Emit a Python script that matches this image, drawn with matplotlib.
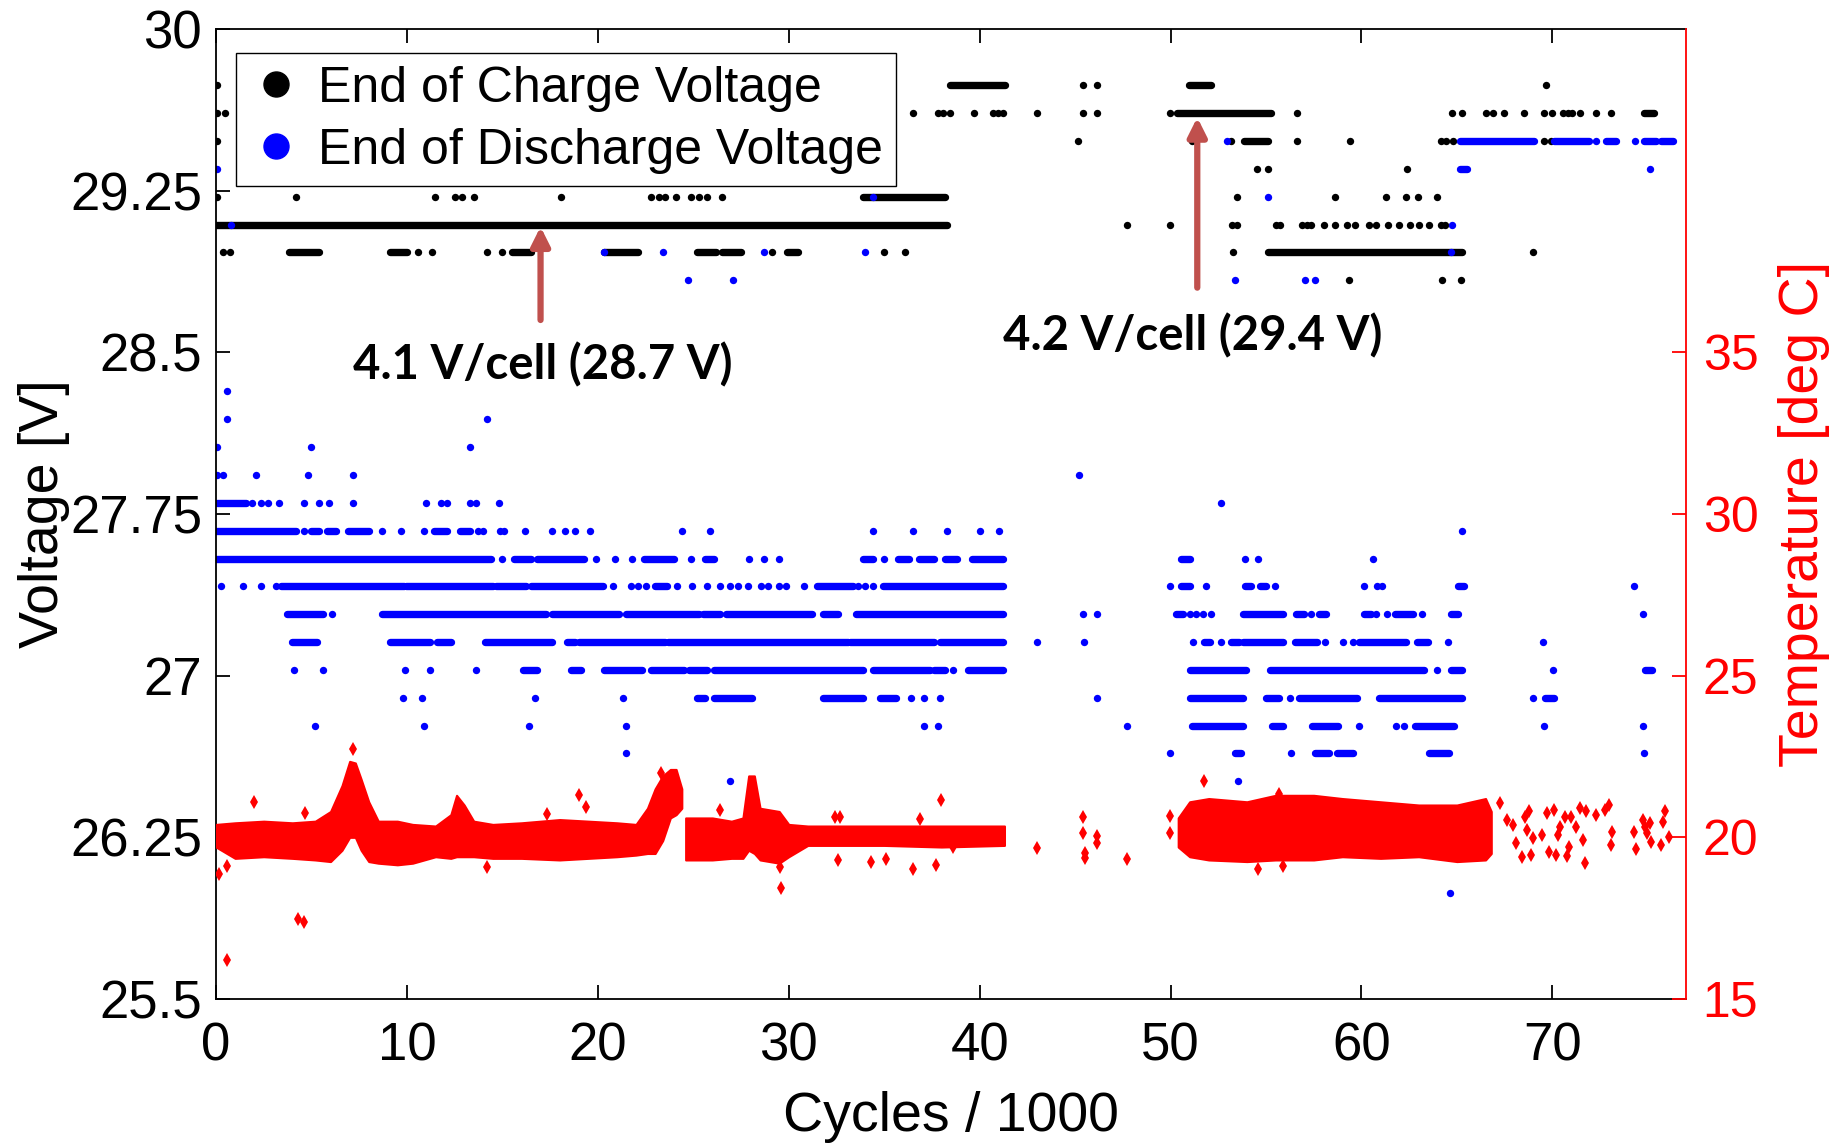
import matplotlib
matplotlib.use("Agg")
import matplotlib.pyplot as plt
from matplotlib.lines import Line2D

plt.rcParams['font.family'] = ['Liberation Sans', 'DejaVu Sans']

# ---- end of charge voltage (black); levels in V, cycles in thousands ----
charge_runs = [
    (29.09, 0.0, 38.3), (29.74, 38.45, 41.33), (29.74, 50.99, 52.11),
    (29.61, 50.36, 55.25), (29.61, 74.81, 75.31), (29.48, 53.87, 55.12),
    (29.22, 33.9, 38.2), (28.965, 55.12, 65.28), (28.965, 3.8, 5.4),
    (28.965, 9.1, 10.0), (28.965, 15.5, 16.5), (28.965, 20.3, 22.1),
    (28.965, 25.2, 26.2), (28.965, 26.5, 27.5), (28.965, 29.9, 30.5),
]
charge_dots = [
    (29.74, [0.03, 45.44, 46.15, 69.67]),
    (29.61, [0.03, 0.48, 36.5, 37.8, 38.1, 38.45, 39.7, 40.7, 40.95, 41.2, 43.0, 45.44,
             46.15, 49.98, 56.6, 64.73, 65.28, 66.54, 66.91, 67.46, 68.52, 69.55, 70.0,
             70.55, 70.8, 71.05, 71.43, 72.3, 73.06]),
    (29.48, [0.03, 45.17, 51.1, 53.17, 56.63, 59.41, 64.15, 64.45, 64.78, 69.55, 69.92]),
    (29.35, [54.55, 55.12, 62.37]),
    (29.22, [0.03, 4.17, 11.47, 12.5, 12.9, 13.5, 18.07, 22.8, 23.2, 23.5, 24.1, 24.9,
             25.3, 25.7, 26.5, 53.5, 58.64, 61.27, 62.32, 62.97, 63.98]),
    (29.09, [47.73, 49.96, 53.24, 53.5, 55.5, 55.75, 56.88, 57.13, 57.38, 58.06, 58.59,
             59.26, 59.64, 60.39, 60.77, 61.39, 61.97, 62.52, 63.02, 63.53, 64.15, 64.4]),
    (28.965, [0.35, 0.75, 10.6, 11.3, 14.2, 15.0, 29.1, 35.0, 36.1, 53.29, 68.99]),
    (28.836, [59.36, 64.23, 65.23]),
]

# ---- end of discharge voltage (blue) ----
discharge_runs = [
    (29.48, 65.16, 69.04), (29.48, 70.1, 71.93), (29.48, 72.8, 73.31),
    (29.48, 74.81, 75.44), (29.48, 75.69, 76.32), (29.35, 65.16, 65.53),
    (27.803, 0.03, 1.55),
    (27.673, 0.0, 4.2), (27.673, 5.0, 5.4), (27.673, 5.8, 6.3), (27.673, 6.9, 8.0),
    (27.673, 11.4, 12.1), (27.673, 12.8, 13.3),
    (27.543, 0.0, 14.4), (27.543, 15.6, 16.5), (27.543, 16.8, 19.3), (27.543, 22.4, 24.0),
    (27.543, 25.6, 26.1), (27.543, 33.9, 34.4), (27.543, 35.7, 36.3), (27.543, 36.8, 37.6),
    (27.543, 38.2, 38.8), (27.543, 39.6, 41.2), (27.543, 50.53, 51.0),
    (27.415, 3.42, 9.84), (27.415, 9.97, 14.51), (27.415, 14.65, 16.25),
    (27.415, 16.52, 20.26), (27.415, 23.0, 23.6), (27.415, 31.48, 33.35),
    (27.415, 34.96, 41.2), (27.415, 50.53, 51.0), (27.415, 53.88, 54.21),
    (27.415, 54.7, 55.02), (27.415, 65.04, 65.39),
    (27.285, 3.7, 5.6), (27.285, 8.7, 17.3), (27.285, 17.6, 21.1), (27.285, 21.5, 25.3),
    (27.285, 25.5, 26.4), (27.285, 26.7, 31.2), (27.285, 31.8, 32.6), (27.285, 33.5, 41.2),
    (27.285, 50.3, 50.65), (27.285, 53.81, 55.91), (27.285, 56.55, 56.97),
    (27.285, 57.79, 58.14), (27.285, 60.12, 60.48), (27.285, 61.76, 62.7),
    (27.285, 64.69, 65.04),
    (27.156, 4.0, 5.3), (27.156, 9.1, 11.2), (27.156, 11.6, 12.3), (27.156, 14.1, 17.6),
    (27.156, 18.4, 18.8), (27.156, 19.0, 23.5), (27.156, 23.7, 33.1), (27.156, 33.2, 37.6),
    (27.156, 37.9, 41.2), (27.156, 51.75, 52.05), (27.156, 53.15, 53.57),
    (27.156, 53.81, 55.91), (27.156, 56.5, 57.67), (27.156, 59.89, 62.35),
    (27.156, 62.93, 63.47),
    (27.026, 16.1, 16.8), (27.026, 18.6, 19.1), (27.026, 20.3, 22.3), (27.026, 22.8, 24.5),
    (27.026, 24.8, 25.7), (27.026, 26.1, 33.9), (27.026, 34.4, 37.4), (27.026, 37.6, 38.2),
    (27.026, 39.4, 41.2), (27.026, 51.0, 53.93), (27.026, 55.21, 63.28),
    (27.026, 64.69, 65.27), (27.026, 74.86, 75.21),
    (26.898, 25.2, 25.6), (26.898, 26.1, 28.1), (26.898, 31.8, 33.9), (26.898, 34.8, 35.6),
    (26.898, 51.0, 53.81), (26.898, 54.98, 55.68), (26.898, 56.73, 59.77),
    (26.898, 60.94, 65.27), (26.898, 69.6, 70.07),
    (26.768, 51.12, 53.81), (26.768, 55.33, 55.91), (26.768, 57.43, 58.77),
    (26.768, 62.81, 64.87),
    (26.64, 53.39, 53.69), (26.64, 57.55, 58.32), (26.64, 58.72, 59.54),
    (26.64, 63.56, 64.57),
]
discharge_dots = [
    (29.48, [52.94, 72.3, 74.31]),
    (29.35, [0.03, 75.14]),
    (29.22, [34.4, 55.1]),
    (29.09, [0.8, 64.73]),
    (28.965, [20.3, 23.4, 28.7, 34.0, 64.7]),
    (28.836, [24.7, 27.1, 53.39, 57.06, 57.56]),
    (28.319, [0.59]),
    (28.189, [0.59, 14.2]),
    (28.061, [0.03, 5.0, 13.3]),
    (27.931, [0.03, 0.35, 2.1, 4.8, 7.2, 45.18]),
    (27.803, [1.9, 2.35, 2.7, 3.3, 4.6, 5.4, 5.9, 7.2, 11.0, 11.8, 12.1, 13.3, 13.6,
              14.8, 52.64]),
    (27.673, [4.6, 8.7, 9.7, 10.9, 13.7, 14.0, 14.9, 15.1, 16.2, 17.6, 18.3, 18.8, 19.6,
              24.4, 25.9, 34.4, 36.5, 38.3, 40.0, 41.0, 65.27]),
    (27.543, [15.0, 19.9, 20.9, 21.8, 24.9, 27.9, 28.7, 29.5, 35.0, 53.88, 54.56, 60.59]),
    (27.415, [0.27, 1.39, 2.38, 3.15, 20.79, 21.73, 22.13, 22.53, 24.13, 24.93, 25.74,
              26.4, 26.94, 27.34, 27.87, 28.54, 28.94, 29.48, 29.88, 30.81, 33.62, 34.02,
              34.42, 49.95, 51.84, 55.49, 60.12, 60.83, 61.06, 74.28]),
    (27.285, [6.1, 45.39, 46.14, 51.0, 51.35, 51.7, 52.1, 57.36, 60.78, 61.32, 63.19, 74.74]),
    (27.156, [43.0, 45.48, 51.19, 52.64, 58.09, 59.03, 59.54, 64.52, 69.5]),
    (27.026, [4.1, 5.6, 9.9, 11.2, 13.6, 38.6, 63.98, 70.02]),
    (26.898, [9.8, 10.8, 16.7, 21.3, 36.4, 37.1, 37.9, 46.16, 56.26, 68.97]),
    (26.768, [5.2, 10.9, 16.4, 21.5, 37.1, 37.8, 47.7, 59.87, 61.83, 62.23, 69.57, 74.77]),
    (26.64, [21.5, 49.95, 56.31, 74.79]),
    (26.51, [26.9, 53.53]),
    (25.99, [64.62]),
]

# ---- temperature (red, deg C): dense spread as (cycle, low, high) + single points ----
temp_bands = [
    [(0.0, 19.7, 20.4), (1.0, 19.35, 20.45), (2.5, 19.4, 20.5), (4.0, 19.35, 20.45),
     (5.2, 19.3, 20.5), (6.0, 19.25, 20.8), (6.6, 19.6, 21.6), (7.0, 20.0, 22.35),
     (7.3, 20.0, 22.3), (7.6, 19.6, 21.8), (8.0, 19.25, 21.1), (8.5, 19.2, 20.5),
     (9.5, 19.15, 20.5), (10.3, 19.2, 20.4), (11.5, 19.4, 20.35), (12.3, 19.35, 20.7),
     (12.6, 19.4, 21.3), (13.0, 19.4, 21.0), (13.5, 19.4, 20.5), (14.5, 19.35, 20.4),
     (16.0, 19.35, 20.45), (18.0, 19.3, 20.55), (19.5, 19.35, 20.5), (21.0, 19.4, 20.45),
     (22.0, 19.45, 20.4), (22.6, 19.5, 20.9), (23.0, 19.5, 21.5), (23.4, 19.9, 21.9),
     (23.8, 20.6, 22.1), (24.1, 20.7, 22.1), (24.4, 20.9, 21.5)],
    [(24.6, 19.3, 20.6), (26.0, 19.3, 20.6), (27.0, 19.35, 20.5), (27.6, 19.35, 20.6),
     (27.9, 19.6, 21.9), (28.2, 19.5, 21.9), (28.5, 19.3, 20.9), (29.5, 19.2, 20.8),
     (30.0, 19.4, 20.4), (31.0, 19.75, 20.35), (35.0, 19.75, 20.35), (38.0, 19.7, 20.35),
     (41.3, 19.75, 20.35)],
    [(50.4, 19.7, 20.6), (51.0, 19.4, 21.1), (52.0, 19.3, 21.2), (54.0, 19.25, 21.1),
     (55.5, 19.3, 21.3), (57.5, 19.3, 21.3), (59.0, 19.4, 21.2), (61.0, 19.35, 21.1),
     (63.0, 19.4, 21.0), (65.0, 19.25, 21.0), (66.5, 19.3, 21.2), (66.8, 19.5, 20.8)],
]
temp_x = [0.16, 0.6, 0.6, 2.0, 4.3, 4.6, 4.65, 7.19, 14.2, 17.35, 19.0, 19.4, 23.3, 26.4,
          29.56, 29.6, 32.4, 32.7, 32.6, 34.3, 35.1, 36.5, 36.9, 37.7, 38.0, 38.6,
          43.0, 45.41, 45.41, 45.5, 45.5, 46.16, 46.16, 47.73, 49.95, 49.95, 51.75, 54.56,
          55.87, 55.68, 67.26, 67.61, 67.96, 68.08, 68.43, 68.55, 68.66, 68.78, 68.9, 69.01,
          69.48, 69.71, 69.83, 70.07, 70.18, 70.3, 70.42, 70.65, 70.77, 70.88, 71.0, 71.24,
          71.47, 71.59, 71.75, 71.7, 72.29, 72.76, 72.99, 73.11, 73.06, 74.28, 74.39, 74.74,
          74.86, 74.98, 75.1, 75.17, 75.68, 75.8, 75.91, 76.1]
temp_y = [18.87, 19.1, 16.21, 21.1, 17.47, 17.39, 20.76, 22.74, 19.09, 20.72, 21.31, 20.95,
          21.98, 20.85, 19.09, 18.42, 20.64, 20.64, 19.3, 19.25, 19.32, 19.02, 20.56, 19.13,
          21.16, 19.71, 19.67, 20.63, 20.12, 19.51, 19.35, 20.05, 19.81, 19.33, 20.65, 20.14,
          21.73, 19.01, 19.12, 21.34, 21.05, 20.54, 20.38, 19.81, 19.4, 20.64, 20.23, 20.8,
          19.45, 19.97, 20.07, 20.74, 19.56, 20.85, 19.45, 20.07, 20.33, 20.64, 19.42, 19.71,
          20.64, 20.33, 20.9, 19.92, 20.8, 19.2, 20.69, 20.85, 21.0, 20.18, 19.76, 20.18,
          19.63, 20.54, 20.33, 20.12, 20.43, 19.87, 19.76, 20.48, 20.8, 20.02]

v_ticks = [25.5, 26.25, 27, 27.75, 28.5, 29.25, 30]
v_tick_labels = ['25.5', '26.25', '27', '27.75', '28.5', '29.25', '30']
t_ticks = [15, 20, 25, 30, 35]
x_ticks = [0, 10, 20, 30, 40, 50, 60, 70]

notes = [("4.1 V/cell (28.7 V)", 17.0, 28.65, 29.083, 17.09, 28.44),
         ("4.2 V/cell (29.4 V)", 51.4, 28.80, 29.59, 51.14, 28.576)]

fig = plt.figure(figsize=(18.43, 11.46), dpi=100)
ax = fig.add_axes([216 / 1843, 1 - 999 / 1146, 1470 / 1843, 970 / 1146])
ax2 = ax.twinx()

dot_ms = 5.3
for lvl, x0, x1 in charge_runs:
    ax.plot([x0, x1], [lvl, lvl], color='black', lw=dot_ms, solid_capstyle='round')
for lvl, xs in charge_dots:
    ax.plot(xs, [lvl] * len(xs), 'o', color='black', ms=dot_ms, mew=0)
for lvl, x0, x1 in discharge_runs:
    ax.plot([x0, x1], [lvl, lvl], color='blue', lw=dot_ms, solid_capstyle='round')
for lvl, xs in discharge_dots:
    ax.plot(xs, [lvl] * len(xs), 'o', color='blue', ms=dot_ms, mew=0)

for band in temp_bands:
    bx = [b[0] for b in band]
    ax2.fill_between(bx, [b[1] for b in band], [b[2] for b in band], color='red', lw=1.5,
                     edgecolor='red')
ax2.plot(temp_x, temp_y, 'd', color='red', ms=7, mew=0)

ax.set_xlim(0, 77)
ax.set_ylim(25.5, 30)
ax2.set_ylim(15, 45)
ax.set_xticks(x_ticks)
ax.set_yticks(v_ticks)
ax.set_yticklabels(v_tick_labels)
ax2.set_yticks(t_ticks)

ax.tick_params(axis='both', direction='in', length=10, width=1.3, labelsize=38,
               top=True, right=False)
ax.tick_params(axis='x', pad=16)
ax.tick_params(axis='y', pad=10)
ax2.tick_params(axis='y', direction='in', length=10, width=1.3, labelsize=36,
                colors='red', pad=12)
for s in ['left', 'top', 'bottom']:
    ax2.spines[s].set_visible(False)
ax.spines['right'].set_visible(False)
ax2.spines['right'].set_color('red')
ax2.spines['right'].set_linewidth(1.3)
for s in ['left', 'top', 'bottom']:
    ax.spines[s].set_linewidth(1.3)

ax.set_xlabel('Cycles / 1000', fontsize=40, labelpad=14)
ax.set_ylabel('Voltage [V]', fontsize=40, labelpad=0)
ax2.set_ylabel('Temperature [deg C]', fontsize=40, color='red', labelpad=14)

arrow_col = '#C0504D'
for label, ax_x, y0, y1, tx, ty in notes:
    ax.annotate('', xy=(ax_x, y1), xytext=(ax_x, y0),
                arrowprops=dict(arrowstyle='-|>,head_length=1.1,head_width=0.55',
                                color=arrow_col, lw=4.5, mutation_scale=10,
                                shrinkA=0, shrinkB=0))
    ax.text(tx, ty, label, fontsize=34, fontweight='bold', family=['Lato', 'DejaVu Sans'],
            ha='center', va='center')

handles = [Line2D([], [], ls='none', marker='o', color='black', ms=18),
           Line2D([], [], ls='none', marker='o', color='blue', ms=18)]
leg = ax2.legend(handles, ['End of Charge Voltage', 'End of Discharge Voltage'],
                 loc='upper left', bbox_to_anchor=(0.0136, 0.975), borderaxespad=0,
                 fontsize=36, frameon=True, fancybox=False, framealpha=1,
                 edgecolor='black', borderpad=0.25, handlelength=1.1, handletextpad=0.3,
                 labelspacing=0.32)
leg.get_frame().set_linewidth(1.0)

fig.savefig('out.png', dpi=100, facecolor='white')
